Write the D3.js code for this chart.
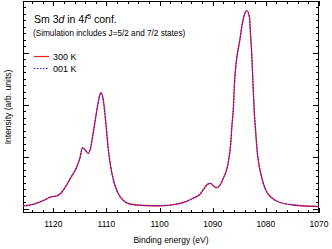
<!DOCTYPE html>
<html><head><meta charset="utf-8">
<script src="https://cdn.jsdelivr.net/npm/d3@7"></script>
<style>
html,body{margin:0;padding:0;background:#fff;}
svg{display:block;font-family:"Liberation Sans",Arial,sans-serif;}
</style></head>
<body><svg id="c" width="332" height="249"></svg>
<script>
// Binding energy (eV)
const energy = [1125.7,1123.8,1121.9,1120.3,1119.4,1118.5,1117.5,1116.6,1115.6,1115.0,
1114.5,1114.0,1113.45,1113.0,1112.5,1111.9,1111.4,1111.05,1110.6,1110.1,
1109.7,1109.2,1108.6,1107.8,1106.9,1105.6,1102.8,1099.9,1097.1,1095.2,
1093.7,1092.4,1091.8,1091.15,1090.5,1089.9,1089.3,1088.6,1088.0,1087.5,
1087.0,1086.6,1086.4,1086.1,1085.9,1085.6,1085.4,1085.0,1084.3,1083.6,
1083.1,1082.9,1082.6,1082.4,1082.2,1081.9,1081.6,1081.1,1080.5,1079.85,
1078.9,1077.7,1074.8,1070.0];
// Intensity (arb. units), 300 K
const int300 = [0.055,0.087,0.157,0.234,0.247,0.311,0.459,0.619,0.800,0.973,
1.177,1.132,1.069,1.165,1.454,1.839,2.127,2.235,2.095,1.646,
1.196,0.811,0.522,0.299,0.170,0.093,0.064,0.060,0.084,0.132,
0.203,0.280,0.363,0.459,0.492,0.445,0.407,0.459,0.594,0.709,
0.940,1.267,1.575,1.960,2.422,2.801,2.961,3.186,3.634,3.813,
3.698,3.384,2.865,2.351,1.902,1.460,1.075,0.748,0.497,0.330,
0.214,0.137,0.074,0.045];
// Intensity (arb. units), 001 K (identical within the drawing)
const int001 = int300.slice();
const xTicks = [1120,1110,1100,1090,1080,1070];
const seriesNames = ["300 K","001 K"];

const svg = d3.select("#c");
const L=23, R=319, T=1, B=213;
const x = d3.scaleLinear().domain([1125.7,1070]).range([L,R]);
const y = d3.scaleLinear().domain([-0.08,4.0]).range([B,T]);

// minor/major ticks
const xMinor = d3.range(1070,1126,2);
const yMinor = d3.range(0,4.0001,0.125);
const yMajor = [0,1,2,3,4];
const g = svg.append("g").attr("stroke","#000").attr("stroke-width",1).attr("shape-rendering","crispEdges");
xMinor.forEach(v=>{
  const major = v%10===0; const len = major?5:3; const px = Math.round(x(v))+0.5;
  g.append("line").attr("x1",px).attr("x2",px).attr("y1",B).attr("y2",B-len);
  g.append("line").attr("x1",px).attr("x2",px).attr("y1",T).attr("y2",T+len);
});
yMinor.forEach(v=>{
  const major = yMajor.some(m=>Math.abs(m-v)<1e-6); const len = major?6:3; const py = Math.round(y(v))+0.5;
  g.append("line").attr("x1",L).attr("x2",L+len).attr("y1",py).attr("y2",py);
  g.append("line").attr("x1",R).attr("x2",R-len).attr("y1",py).attr("y2",py);
});
g.append("rect").attr("x",L+0.5).attr("y",T+0.5).attr("width",R-L-1).attr("height",B-T-1).attr("fill","none");

// x tick labels
svg.append("g").selectAll("text").data(xTicks).join("text")
  .attr("x",d=>x(d)).attr("y",227).attr("text-anchor","middle")
  .attr("font-size",8.5).attr("fill","#000").text(d=>d);
svg.append("text").attr("x",171).attr("y",243).attr("text-anchor","middle")
  .attr("font-size",8.5).text("Binding energy (eV)");
svg.append("text").attr("transform","translate(11,107) rotate(-90)").attr("text-anchor","middle")
  .attr("font-size",8.5).text("Intensity (arb. units)");

// curves
const pts300 = energy.map((e,i)=>[e,int300[i]]);
const pts001 = energy.map((e,i)=>[e,int001[i]]);
const line = d3.line().x(d=>x(d[0])).y(d=>y(d[1])).curve(d3.curveMonotoneX);
const clip = svg.append("clipPath").attr("id","cp").append("rect").attr("x",L).attr("y",T).attr("width",R-L).attr("height",B-T);
svg.append("path").attr("d",line(pts300)).attr("fill","none").attr("stroke","#ff1a1a").attr("stroke-width",1.3).attr("clip-path","url(#cp)");
svg.append("path").attr("d",line(pts001)).attr("fill","none").attr("stroke","#1a1aff").attr("stroke-width",1.1).attr("stroke-dasharray","1.5,1.5").attr("clip-path","url(#cp)");

// annotations
const t = svg.append("text").attr("x",34).attr("y",23).attr("font-size",10.5);
t.append("tspan").text("Sm ");
t.append("tspan").text("3");
t.append("tspan").attr("font-style","italic").text("d");
t.append("tspan").text(" in 4");
t.append("tspan").attr("font-style","italic").text("f");
t.append("tspan").attr("font-size",7).attr("dy",-4).text("5");
t.append("tspan").attr("dy",4).text(" conf.");
svg.append("text").attr("x",33).attr("y",36).attr("font-size",8.2)
  .text("(Simulation includes J=5/2 and 7/2 states)");

// legend
const lg = svg.append("g");
lg.append("line").attr("x1",34).attr("x2",49).attr("y1",56.5).attr("y2",56.5).attr("stroke","#ff1a1a").attr("stroke-width",1.2);
lg.append("line").attr("x1",34).attr("x2",49).attr("y1",68.5).attr("y2",68.5).attr("stroke","#1a1aff").attr("stroke-width",1).attr("stroke-dasharray","1.5,1.5");
lg.append("text").attr("x",53).attr("y",60).attr("font-size",9).text(seriesNames[0]);
lg.append("text").attr("x",53).attr("y",72).attr("font-size",9).text(seriesNames[1]);
</script></body></html>
